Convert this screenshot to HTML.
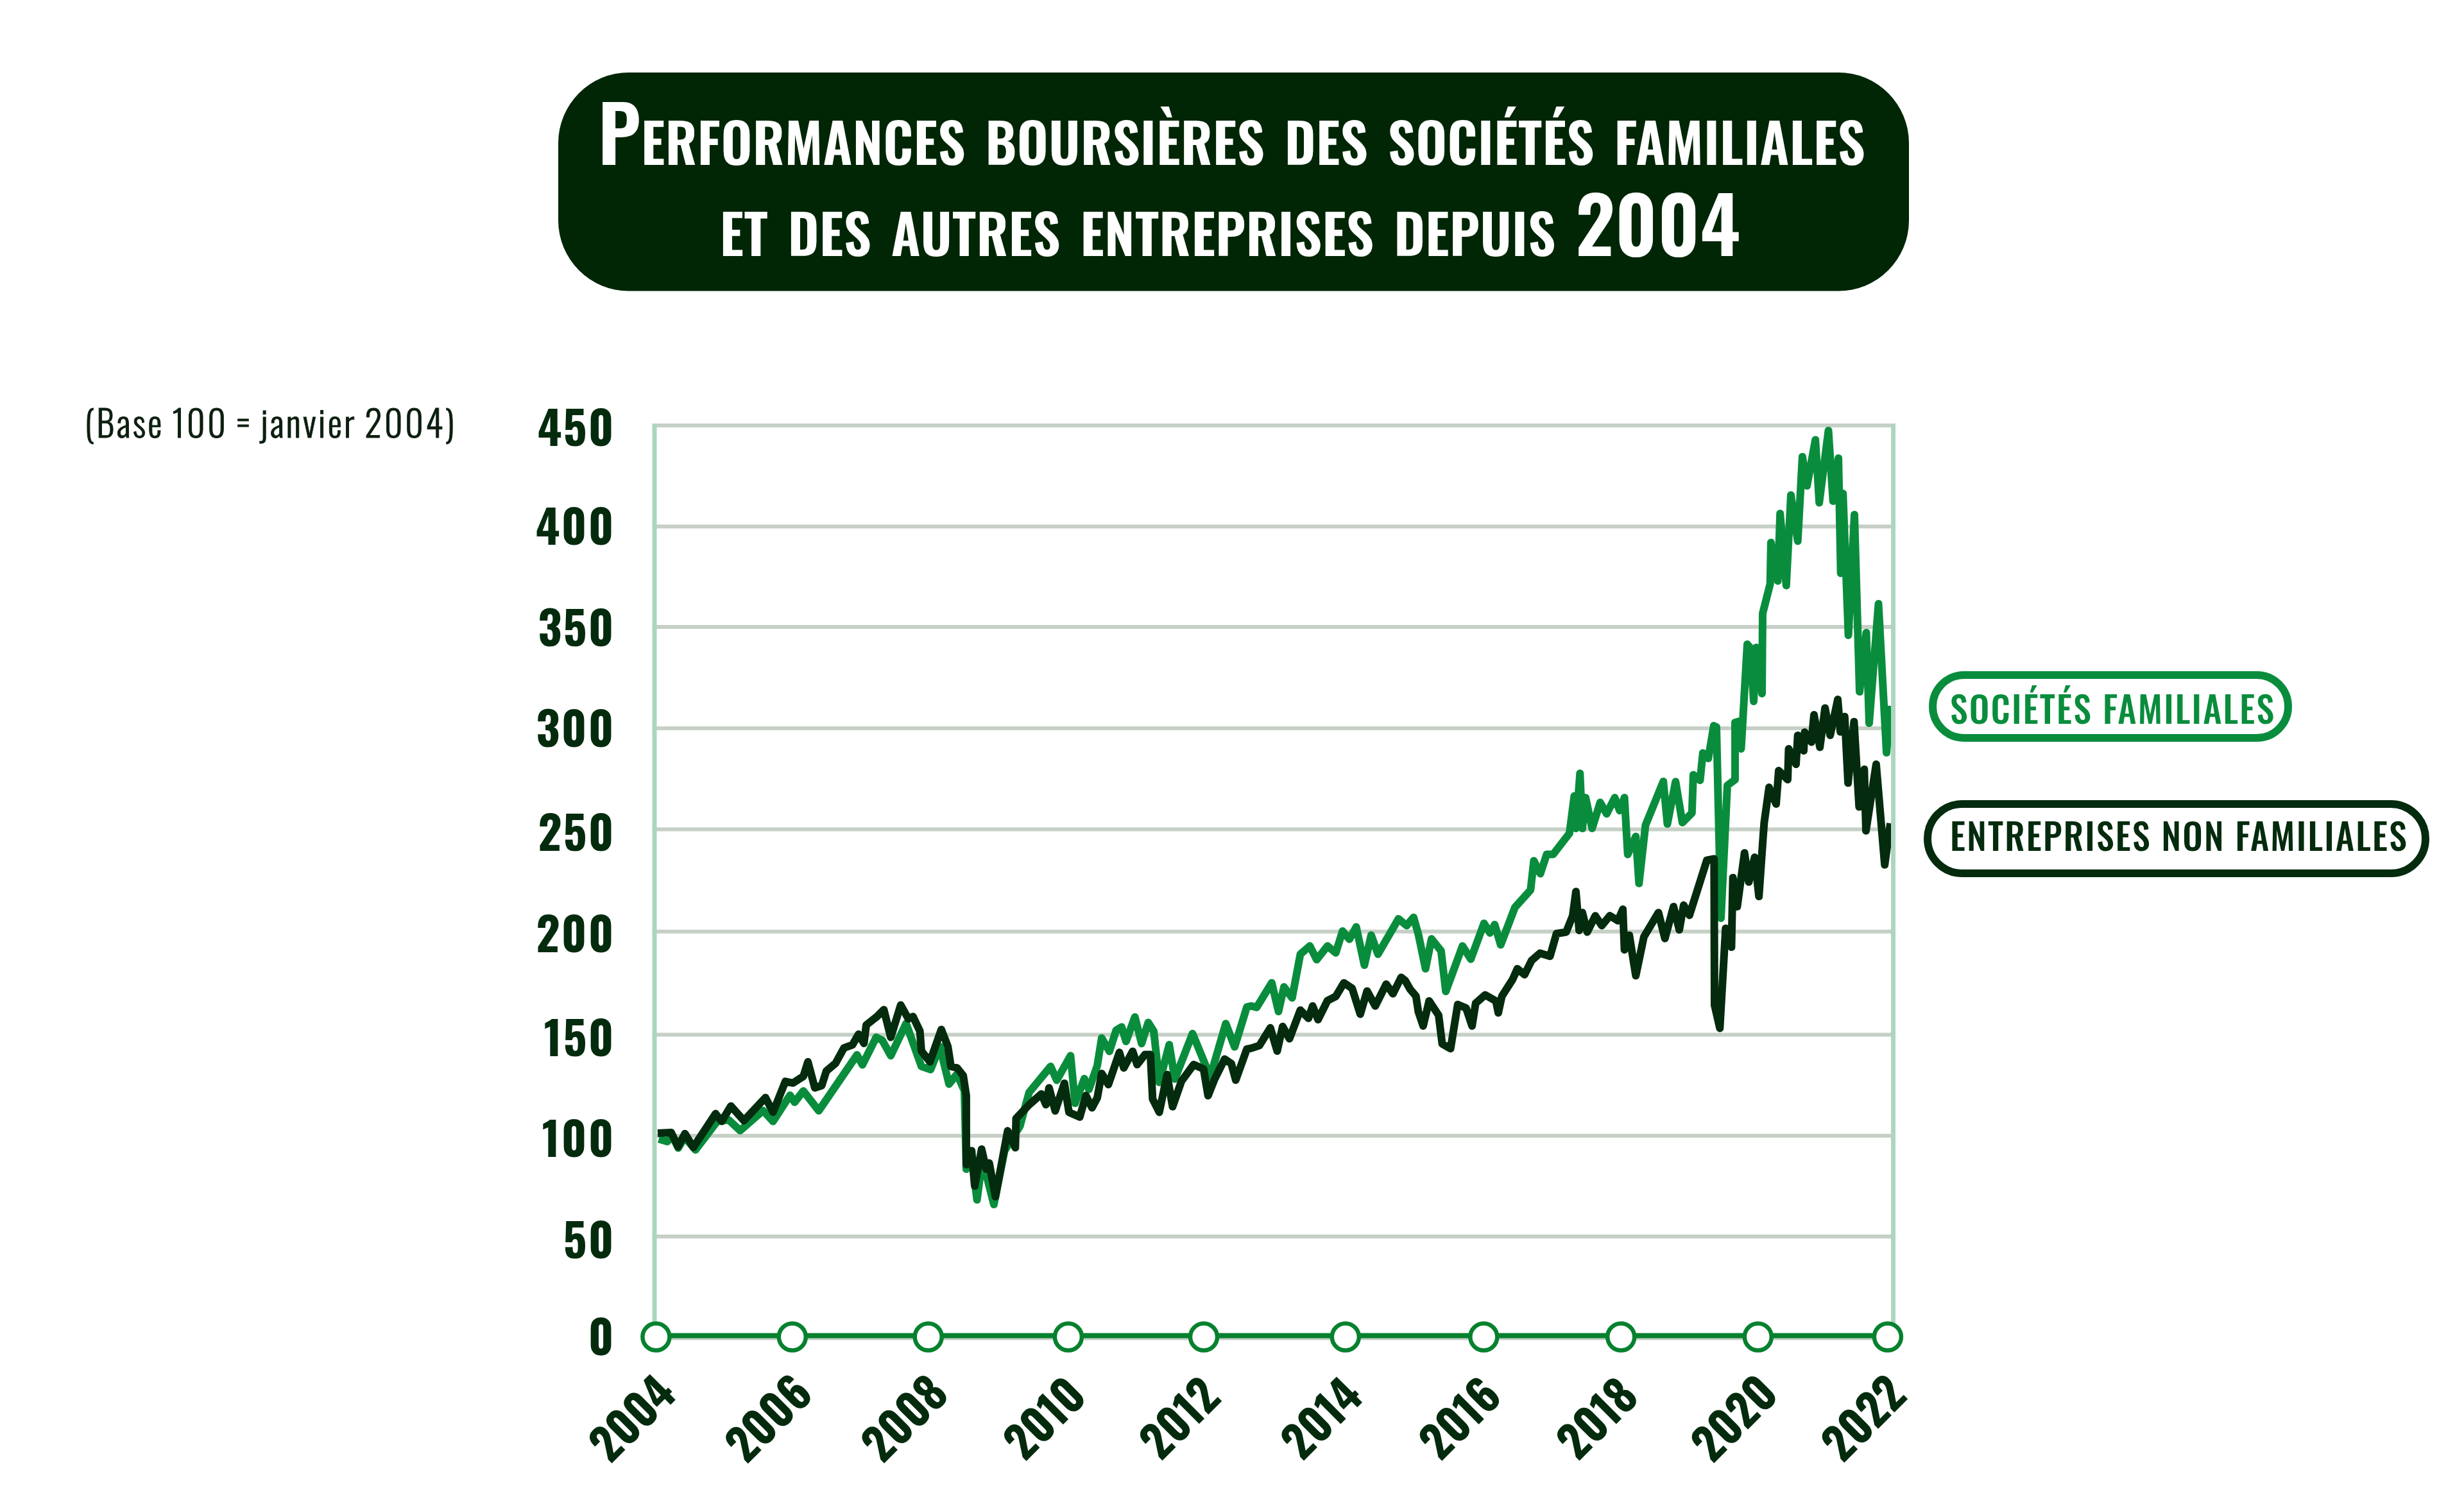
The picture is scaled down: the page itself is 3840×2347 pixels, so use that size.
<!DOCTYPE html>
<html><head><meta charset="utf-8"><title>Performances boursières des sociétés familiales</title>
<style>
html,body{margin:0;padding:0;background:#fff;}
body{width:3840px;height:2347px;overflow:hidden;position:relative;}
svg{position:absolute;left:0;top:0;display:block;}
text{font-family:"Oswald","Liberation Sans Narrow","Liberation Sans",sans-serif;}
.yl{font-size:72px;font-weight:700;fill:#042b0d;text-anchor:end;letter-spacing:2.3px;}
.xl{font-size:70px;font-weight:700;fill:#042b0d;text-anchor:middle;dominant-baseline:central;}
.t1{font-size:85px;font-weight:600;fill:#fff;letter-spacing:0.49px;word-spacing:8.9px;}
.big{font-size:121px;}
.base{font-size:56px;font-weight:300;fill:#0c1f0f;stroke:#0c1f0f;stroke-width:0.9px;letter-spacing:3.3px;word-spacing:-2.4px;}
.lg{font-size:56px;font-weight:500;letter-spacing:2.2px;}
</style></head>
<body>
<svg width="3840" height="2347" viewBox="0 0 3840 2347">
<rect x="870" y="113" width="2105" height="340.5" rx="110" ry="110" fill="#012605"/>
<line x1="1020" y1="663" x2="2950" y2="663" stroke="#c6d0c6" stroke-width="6"/>
<line x1="1020" y1="820.5" x2="2950" y2="820.5" stroke="#c6d0c6" stroke-width="6"/>
<line x1="1020" y1="977" x2="2950" y2="977" stroke="#c6d0c6" stroke-width="6"/>
<line x1="1020" y1="1135" x2="2950" y2="1135" stroke="#c6d0c6" stroke-width="6"/>
<line x1="1020" y1="1292.4" x2="2950" y2="1292.4" stroke="#c6d0c6" stroke-width="6"/>
<line x1="1020" y1="1451.8" x2="2950" y2="1451.8" stroke="#c6d0c6" stroke-width="6"/>
<line x1="1020" y1="1612.4" x2="2950" y2="1612.4" stroke="#c6d0c6" stroke-width="6"/>
<line x1="1020" y1="1770" x2="2950" y2="1770" stroke="#c6d0c6" stroke-width="6"/>
<line x1="1020" y1="1927" x2="2950" y2="1927" stroke="#c6d0c6" stroke-width="6"/>
<polyline points="1026.7,1775.0 1040.0,1779.0 1048.0,1770.0 1057.0,1789.0 1067.0,1772.0 1084.0,1792.0 1117.6,1747.6 1135.5,1745.2 1153.4,1761.9 1189.3,1730.8 1204.8,1747.6 1231.1,1706.9 1238.3,1717.7 1252.0,1700.2 1276.0,1731.0 1335.6,1644.0 1344.0,1659.5 1365.5,1616.5 1375.0,1621.3 1388.2,1645.2 1412.1,1595.0 1436.0,1661.9 1450.3,1666.7 1464.7,1630.8 1479.0,1689.4 1491.5,1673.8 1503.0,1700.0 1505.9,1822.0 1514.0,1800.0 1522.6,1869.8 1529.8,1814.9 1537.0,1830.0 1548.9,1877.0 1565.6,1793.3 1589.5,1755.1 1603.8,1702.5 1637.3,1661.9 1646.9,1683.4 1668.4,1645.2 1675.5,1719.3 1689.9,1681.0 1697.0,1697.7 1710.0,1660.9 1716.9,1617.7 1729.0,1638.4 1739.4,1605.6 1748.0,1600.4 1754.9,1622.9 1768.7,1584.9 1779.1,1626.3 1789.4,1593.5 1798.1,1607.3 1806.7,1686.8 1822.2,1628.1 1830.9,1681.6 1858.5,1610.8 1886.1,1678.1 1910.3,1595.2 1924.1,1631.5 1943.1,1569.4 1950.0,1567.8 1958.5,1569.9 1981.9,1531.7 1992.5,1576.3 2001.0,1538.1 2013.7,1555.1 2026.5,1487.1 2041.3,1474.3 2052.0,1495.6 2068.9,1474.3 2081.7,1485.0 2092.3,1451.0 2102.9,1463.7 2113.6,1444.6 2126.3,1504.1 2136.9,1457.3 2147.5,1487.1 2179.4,1431.9 2192.1,1442.5 2203.0,1429.7 2210.4,1455.8 2221.6,1509.7 2230.9,1463.2 2245.8,1481.8 2253.2,1545.0 2279.2,1474.3 2292.2,1494.8 2312.7,1439.0 2322.0,1453.9 2329.4,1440.9 2338.7,1472.5 2361.0,1414.0 2385.3,1386.9 2390.4,1341.5 2400.5,1361.6 2410.5,1331.4 2420.6,1331.4 2445.9,1298.6 2453.4,1240.5 2456.0,1291.0 2462.3,1205.2 2466.0,1291.0 2471.1,1243.1 2481.2,1291.0 2493.8,1250.6 2503.9,1268.3 2516.5,1243.1 2524.1,1263.2 2531.6,1243.1 2536.7,1331.4 2549.3,1303.6 2554.3,1376.8 2564.4,1286.0 2592.2,1217.8 2598.5,1284.0 2611.3,1218.2 2621.9,1281.9 2636.8,1267.0 2638.9,1207.5 2649.5,1216.0 2653.8,1173.5 2662.3,1182.0 2670.8,1131.0 2675.0,1133.1 2682.0,1431.0 2692.0,1224.0 2704.0,1215.0 2704.0,1126.0 2711.0,1124.0 2713.5,1167.0 2723.0,1004.0 2728.0,1010.0 2733.0,1093.0 2737.0,1009.0 2741.0,1012.0 2746.0,1081.0 2747.0,956.0 2758.7,910.1 2759.9,845.6 2770.6,905.4 2774.2,800.2 2783.8,912.5 2791.0,771.5 2801.7,843.2 2808.9,711.7 2816.1,757.1 2829.2,685.4 2835.2,783.4 2849.5,671.1 2856.7,781.0 2865.1,714.1 2868.7,893.4 2872.2,769.1 2880.6,990.0 2890.0,802.0 2898.0,1078.0 2908.5,986.0 2913.0,1127.0 2927.5,941.0 2940.0,1173.0 2946.0,1100.0" fill="none" stroke="#098d3d" stroke-width="12" stroke-linejoin="round" stroke-linecap="butt"/>
<polyline points="1025.0,1766.0 1045.9,1764.9 1056.6,1787.0 1067.4,1766.7 1080.5,1788.2 1115.2,1735.6 1124.7,1747.6 1139.1,1723.7 1159.4,1746.4 1192.9,1710.5 1204.8,1733.2 1223.9,1685.4 1235.9,1687.8 1252.0,1677.4 1259.1,1654.7 1269.9,1695.4 1280.6,1691.8 1287.8,1669.1 1302.1,1657.1 1315.3,1633.2 1328.4,1628.4 1338.0,1611.7 1346.4,1626.1 1350.0,1597.4 1366.7,1584.2 1377.4,1573.5 1388.2,1616.5 1403.7,1566.3 1415.7,1587.8 1422.9,1584.2 1433.6,1606.9 1436.0,1638.0 1449.2,1654.7 1467.0,1604.5 1477.2,1630.8 1482.0,1661.9 1491.5,1664.3 1501.1,1676.2 1505.9,1707.3 1506.0,1815.0 1514.2,1793.3 1519.0,1848.3 1529.8,1791.0 1536.9,1822.0 1541.7,1812.5 1551.3,1865.0 1570.4,1762.3 1582.3,1788.6 1583.5,1743.2 1603.8,1721.6 1623.0,1704.9 1630.1,1721.6 1634.9,1695.4 1644.5,1731.2 1658.8,1688.2 1666.0,1733.6 1682.7,1740.8 1692.3,1707.3 1701.8,1726.4 1710.0,1710.9 1716.9,1672.9 1727.3,1690.2 1744.5,1640.1 1751.4,1664.3 1765.2,1638.4 1772.2,1659.1 1784.2,1643.6 1792.9,1643.6 1796.3,1712.6 1806.7,1733.4 1818.8,1674.7 1827.4,1724.7 1841.2,1685.0 1860.2,1659.1 1875.7,1666.0 1882.7,1707.5 1893.0,1681.6 1908.5,1650.5 1918.9,1657.4 1925.8,1683.3 1943.1,1635.0 1950.0,1633.6 1962.7,1629.4 1979.7,1601.8 1990.4,1637.9 1998.9,1599.7 2009.5,1618.8 2026.5,1574.2 2039.2,1586.9 2045.6,1567.8 2054.1,1589.0 2068.9,1559.3 2081.7,1552.9 2094.4,1531.7 2107.2,1540.2 2119.9,1580.5 2130.5,1544.4 2143.3,1567.8 2160.3,1533.8 2170.9,1548.7 2183.6,1523.2 2190.0,1528.3 2197.4,1541.3 2206.7,1552.4 2210.4,1576.6 2217.9,1598.9 2227.2,1559.9 2242.0,1582.2 2247.6,1626.8 2260.6,1634.2 2271.8,1565.4 2284.8,1571.0 2294.1,1598.9 2299.7,1563.6 2314.5,1550.6 2331.3,1559.9 2335.0,1578.4 2340.6,1552.4 2357.3,1526.4 2364.7,1509.7 2375.9,1519.0 2387.0,1496.7 2400.0,1485.5 2415.6,1490.3 2425.7,1455.0 2440.8,1452.5 2450.9,1427.2 2456.0,1389.4 2461.0,1449.9 2466.0,1422.2 2473.6,1452.5 2486.2,1427.2 2496.3,1442.4 2508.9,1427.2 2521.5,1434.8 2529.1,1417.1 2531.6,1480.2 2539.2,1457.5 2549.3,1520.6 2561.9,1460.0 2584.6,1422.2 2594.7,1462.5 2608.1,1412.9 2617.1,1449.0 2623.9,1410.6 2632.9,1426.4 2660.0,1340.6 2671.3,1338.4 2672.0,1566.4 2680.3,1602.5 2689.3,1446.7 2698.4,1476.1 2700.6,1367.7 2707.4,1412.9 2718.7,1329.3 2725.4,1374.5 2734.5,1336.1 2741.2,1397.1 2748.0,1300.0 2749.4,1282.0 2757.0,1227.0 2768.0,1253.0 2772.0,1201.0 2786.0,1215.0 2787.5,1167.0 2799.0,1191.0 2801.7,1146.0 2811.0,1170.0 2812.5,1141.0 2823.0,1156.5 2827.0,1114.0 2836.2,1164.5 2844.2,1103.4 2852.2,1145.9 2864.1,1090.1 2868.1,1140.6 2874.8,1116.7 2880.1,1220.3 2889.4,1124.7 2897.3,1257.5 2905.3,1199.0 2908.0,1294.7 2923.9,1191.1 2937.2,1347.8 2946.0,1283.0" fill="none" stroke="#042b0d" stroke-width="12" stroke-linejoin="round" stroke-linecap="butt"/>
<line x1="1020" y1="660" x2="1020" y2="2080" stroke="#acd6bf" stroke-width="7"/>
<line x1="2950.5" y1="660" x2="2950.5" y2="2080" stroke="#acd6bf" stroke-width="7"/>
<line x1="1020" y1="2085.5" x2="2950" y2="2085.5" stroke="#c6d0c6" stroke-width="6"/>
<line x1="1022" y1="2081.5" x2="2942" y2="2081.5" stroke="#06812e" stroke-width="8"/>
<circle cx="1022.4" cy="2083.5" r="21" fill="#fff" stroke="#06812e" stroke-width="6.5"/>
<circle cx="1234.8" cy="2083.5" r="21" fill="#fff" stroke="#06812e" stroke-width="6.5"/>
<circle cx="1446.7" cy="2083.5" r="21" fill="#fff" stroke="#06812e" stroke-width="6.5"/>
<circle cx="1664.9" cy="2083.5" r="21" fill="#fff" stroke="#06812e" stroke-width="6.5"/>
<circle cx="1876" cy="2083.5" r="21" fill="#fff" stroke="#06812e" stroke-width="6.5"/>
<circle cx="2096.8" cy="2083.5" r="21" fill="#fff" stroke="#06812e" stroke-width="6.5"/>
<circle cx="2312.3" cy="2083.5" r="21" fill="#fff" stroke="#06812e" stroke-width="6.5"/>
<circle cx="2526.2" cy="2083.5" r="21" fill="#fff" stroke="#06812e" stroke-width="6.5"/>
<circle cx="2739.8" cy="2083.5" r="21" fill="#fff" stroke="#06812e" stroke-width="6.5"/>
<circle cx="2941.9" cy="2083.5" r="21" fill="#fff" stroke="#06812e" stroke-width="6.5"/>
<text x="958.6" y="694.6" class="yl" textLength="120.89" lengthAdjust="spacingAndGlyphs">450</text>
<text x="958.6" y="848.9" class="yl" textLength="123.83" lengthAdjust="spacingAndGlyphs">400</text>
<text x="958.6" y="1006.7" class="yl" textLength="120.16" lengthAdjust="spacingAndGlyphs">350</text>
<text x="958.6" y="1164" class="yl" textLength="123.11" lengthAdjust="spacingAndGlyphs">300</text>
<text x="958.6" y="1326" class="yl" textLength="120.16" lengthAdjust="spacingAndGlyphs">250</text>
<text x="958.6" y="1484" class="yl" textLength="123.11" lengthAdjust="spacingAndGlyphs">200</text>
<text x="958.6" y="1645.5" class="yl" textLength="110.88" lengthAdjust="spacingAndGlyphs">150</text>
<text x="958.6" y="1803" class="yl" textLength="113.83" lengthAdjust="spacingAndGlyphs">100</text>
<text x="958.6" y="1960.5" class="yl" textLength="80.86" lengthAdjust="spacingAndGlyphs">50</text>
<text x="958.6" y="2112" class="yl" textLength="41.91" lengthAdjust="spacingAndGlyphs">0</text>
<text transform="translate(981.9,2207) rotate(-45)" class="xl" textLength="149.67" lengthAdjust="spacingAndGlyphs">2004</text>
<text transform="translate(1194.3,2207) rotate(-45)" class="xl" textLength="150.64" lengthAdjust="spacingAndGlyphs">2006</text>
<text transform="translate(1406.2,2207) rotate(-45)" class="xl" textLength="149.45" lengthAdjust="spacingAndGlyphs">2008</text>
<text transform="translate(1624.4,2207) rotate(-45)" class="xl" textLength="139.94" lengthAdjust="spacingAndGlyphs">2010</text>
<text transform="translate(1835.5,2207) rotate(-45)" class="xl" textLength="137.42" lengthAdjust="spacingAndGlyphs">2012</text>
<text transform="translate(2056.3,2207) rotate(-45)" class="xl" textLength="138.12" lengthAdjust="spacingAndGlyphs">2014</text>
<text transform="translate(2271.8,2207) rotate(-45)" class="xl" textLength="139.09" lengthAdjust="spacingAndGlyphs">2016</text>
<text transform="translate(2485.7,2207) rotate(-45)" class="xl" textLength="137.91" lengthAdjust="spacingAndGlyphs">2018</text>
<text transform="translate(2699.3,2207) rotate(-45)" class="xl" textLength="148.97" lengthAdjust="spacingAndGlyphs">2020</text>
<text transform="translate(2901.4,2207) rotate(-45)" class="xl" textLength="146.45" lengthAdjust="spacingAndGlyphs">2022</text>
<text x="1919.5" y="257" class="t1" text-anchor="middle" textLength="1975.44" lengthAdjust="spacingAndGlyphs"><tspan class="big">P</tspan>ERFORMANCES BOURSIÈRES DES SOCIÉTÉS FAMILIALES</text>
<text x="1917" y="398.5" class="t1" text-anchor="middle" textLength="1590.48" lengthAdjust="spacingAndGlyphs">ET DES AUTRES ENTREPRISES DEPUIS <tspan class="big">2004</tspan></text>
<text x="131.5" y="682" class="base" textLength="580.22" lengthAdjust="spacingAndGlyphs">(Base 100 = janvier 2004)</text>
<rect x="3012" y="1052" width="554" height="98" rx="49" fill="#fff" stroke="#098d3d" stroke-width="12"/>
<text x="3039" y="1127.5" class="lg" fill="#098d3d" textLength="507.39" lengthAdjust="spacingAndGlyphs">SOCIÉTÉS FAMILIALES</text>
<rect x="3004" y="1253" width="776" height="108" rx="54" fill="#fff" stroke="#042b0d" stroke-width="12"/>
<text x="3039" y="1325.5" class="lg" fill="#042b0d" textLength="714.03" lengthAdjust="spacingAndGlyphs">ENTREPRISES NON FAMILIALES</text>
</svg>
</body></html>
